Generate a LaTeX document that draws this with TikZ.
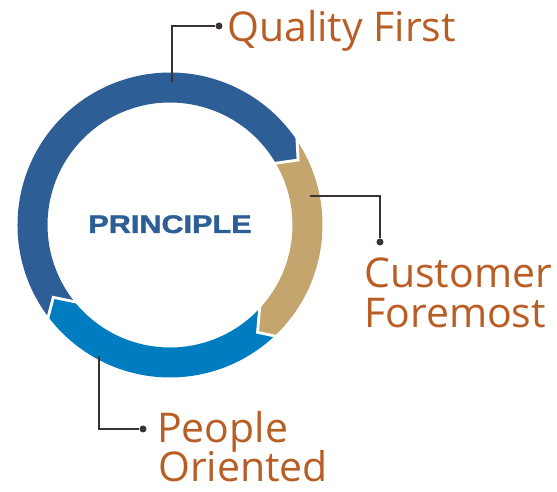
\documentclass[tikz,border=0pt]{standalone}
\usepackage{fontspec}
\setmainfont{Open Sans}
\newfontfamily\headfont[BoldFeatures={FakeBold=1.3}]{Liberation Sans}
\definecolor{ringdark}{RGB}{46,94,150}
\definecolor{ringtan}{RGB}{196,165,110}
\definecolor{ringlight}{RGB}{0,125,193}
\definecolor{labelorange}{RGB}{184,94,36}
\definecolor{connline}{RGB}{59,51,51}
\tikzset{
  lbl/.style={anchor=base west, inner sep=0pt, text=labelorange, font=\fontsize{41}{41}\selectfont},
  dotnode/.style={circle, fill=connline, inner sep=0pt, minimum size=7pt},
  conn/.style={draw=connline, line width=1.3pt},
  sep/.style={draw=white, line width=2.8pt, shorten <=-3pt, shorten >=-3pt, line join=miter}
}
\begin{document}
\begin{tikzpicture}[x=1pt,y=1pt]
\useasboundingbox (0,0) rectangle (557,492);
\begin{scope}[shift={(170,267)}]
  % dark blue segment (left and top)
  \fill[ringdark] (217:152.5) arc[start angle=217, end angle=33.6, radius=152.5]
    -- (26.9:143.6) -- (30.3:122.5) arc[start angle=30.3, end angle=218.8, radius=122.5]
    -- (211.8:137.3) -- cycle;
  % tan segment (right)
  \fill[ringtan] (33.6:152.5) arc[start angle=33.6, end angle=-46.7, radius=152.5]
    -- (-50.8:138.5) -- (-43:122.5) arc[start angle=-43, end angle=30.3, radius=122.5]
    -- (26.9:143.6) -- cycle;
  % light blue segment (bottom)
  \fill[ringlight] (-46.7:152.5) arc[start angle=-46.7, end angle=-143, radius=152.5]
    -- (-148.2:137.3) -- (-141.2:122.5) arc[start angle=-141.2, end angle=-43, radius=122.5]
    -- (-50.8:138.5) -- cycle;
  % white separators
  \draw[sep] (33.6:152.5) -- (26.9:143.6) -- (30.3:122.5);
  \draw[sep] (-46.7:152.5) -- (-50.8:138.5) -- (-43:122.5);
  \draw[sep] (217:152.5) -- (211.8:137.3) -- (218.8:122.5);
\end{scope}

\node[anchor=base, inner sep=0pt, text=ringdark, font=\headfont\bfseries\fontsize{25.5}{25.5}\selectfont] (principle) at (170,259) {\scalebox{1.2}[1]{PRINCIPLE}};

% connectors
\coordinate (qring) at (172,410);
\node[dotnode] (qdot) at (219,466) {};
\draw[conn] (qring) |- (qdot);

\coordinate (cring) at (310,296);
\node[dotnode] (cdot) at (380,250) {};
\draw[conn] (cring) -| (cdot);

\coordinate (pring) at (99,136);
\node[dotnode] (pdot) at (143,63) {};
\draw[conn] (pring) |- (pdot);

% labels
\node[lbl] (quality) at (227,450) {Quality First};
\node[lbl] (customer) at (364,204) {Customer};
\node[lbl] (foremost) at (364,164) {Foremost};
\node[lbl] (people) at (157,49) {People};
\node[lbl] (oriented) at (158,10) {Oriented};
\end{tikzpicture}
\end{document}
